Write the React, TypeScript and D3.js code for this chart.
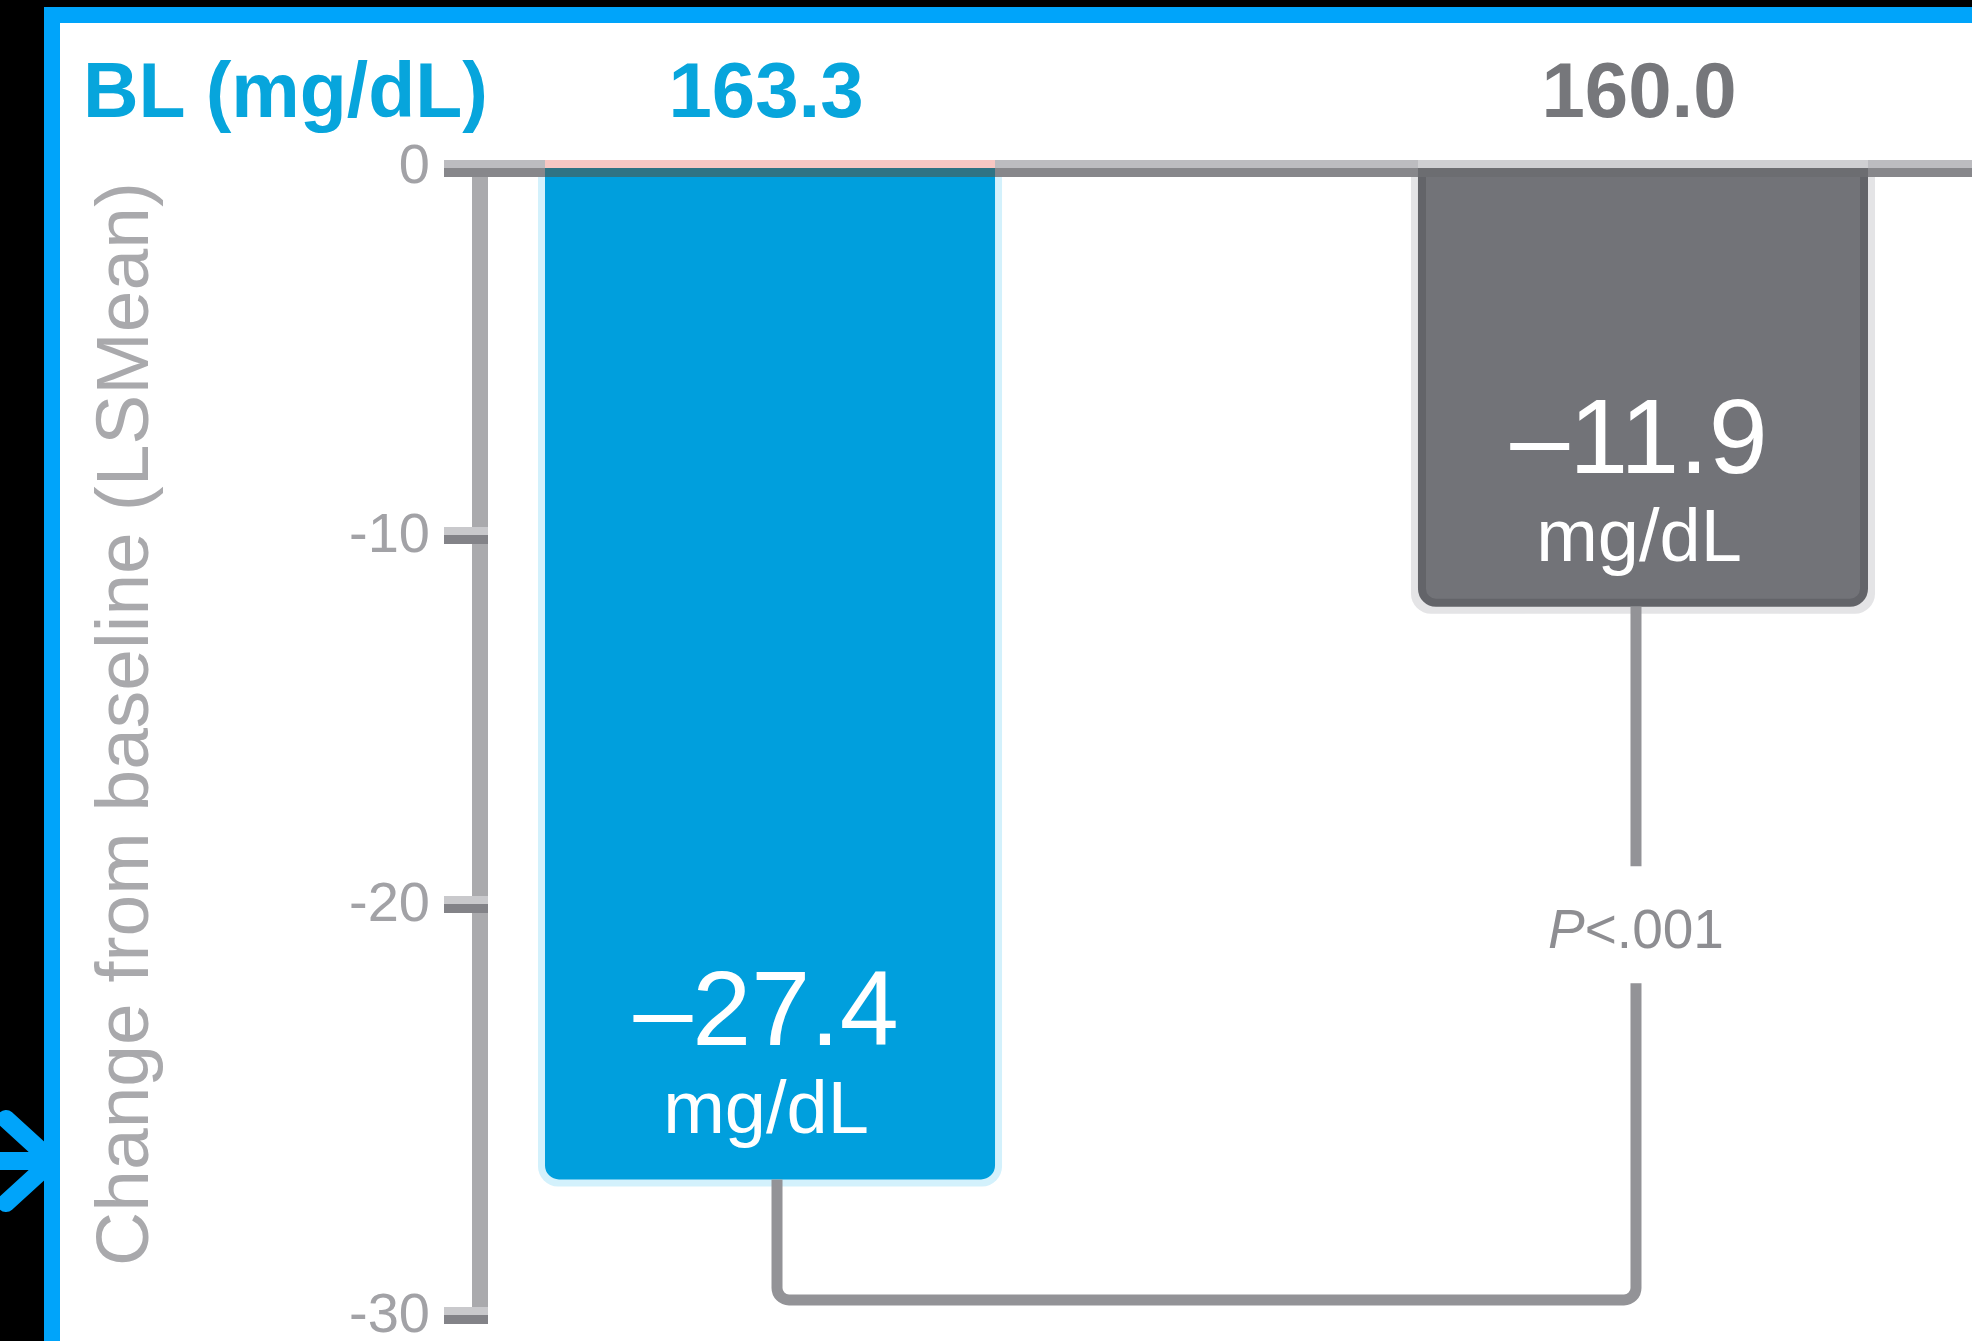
import React from "react";
import * as d3 from "d3";

// ---- data ----
const ARMS = ["Active", "Placebo"];
const BASELINE_VALUES = [163.3, 160.0];
const LSMEAN_CHANGE = [-27.4, -11.9];
const Y_TICKS = [0, -10, -20, -30];
const BASELINE_HEADER = "BL (mg/dL)";
const UNIT = "mg/dL";
const Y_TITLE = "Change from baseline (LSMean)";
const P_PREFIX = "P";
const P_REST = "<.001";

// ---- look ----
const W = 1972;
const H = 1341;
const FONT = "'Liberation Sans', Arial, Helvetica, sans-serif";
const FRAME_BLUE = "#00a4fa";
const BAR_FILL = ["#009fdd", "#727378"];
const BAR_EDGE = [null, "#636469"];
const BAR_HALO = ["#d3f1fc", "#e4e4e6"];
const HEADER_FILL = ["#07a5dc", "#76777b"];
const ZERO_TOP = ["#f8c7c3", "#cfcfd2"];
const ZERO_BOTTOM = ["#2f7384", "#6c6d71"];

// bar shape: flat top, rounded bottom corners
function barPath(x0: number, x1: number, yTop: number, yBottom: number, r: number) {
  const p = d3.path();
  p.moveTo(x0, yTop);
  p.lineTo(x1, yTop);
  p.lineTo(x1, yBottom - r);
  p.arcTo(x1, yBottom, x1 - r, yBottom, r);
  p.lineTo(x0 + r, yBottom);
  p.arcTo(x0, yBottom, x0, yBottom - r, r);
  p.closePath();
  return p.toString();
}

export default function App() {
  const x = d3.scaleBand<string>().domain(ARMS).range([545, 1868]).paddingInner(0.4845).paddingOuter(0);
  const y = d3.scaleLinear().domain([0, -20]).range([167, 906]);
  // axis ticks: the last interval of the printed axis is stretched
  const yAxis = d3.scaleLinear().domain([0, -20, -30]).range([167, 905, 1316]);

  const bw = x.bandwidth();
  const y0 = y(0);
  const axisX = 480;
  const zeroLeft = 444;

  const cx = ARMS.map((a) => (x(a) as number) + bw / 2);
  const bottoms = LSMEAN_CHANGE.map((v) => y(v));

  // bracket legs sit slightly inside the bar centres
  const legInset = 7;
  const legL = cx[0] + legInset;
  const legR = cx[1] - legInset;
  const bracketY = yAxis(-30) - 16;
  const pLabelBase = (bottoms[1] + bracketY) / 2 - 5;
  const gapTop = pLabelBase - 82;
  const gapBottom = pLabelBase + 35;

  const r = 12;
  const bracket = d3.path();
  bracket.moveTo(legL, bottoms[0]);
  bracket.lineTo(legL, bracketY - r);
  bracket.arcTo(legL, bracketY, legL + r, bracketY, r);
  bracket.lineTo(legR - r, bracketY);
  bracket.arcTo(legR, bracketY, legR, bracketY - r, r);
  bracket.lineTo(legR, gapBottom);
  bracket.moveTo(legR, gapTop);
  bracket.lineTo(legR, bottoms[1]);

  return (
    <div style={{ position: "absolute", left: 0, top: 0 }}>
      <svg width={W} height={H} viewBox={`0 0 ${W} ${H}`} style={{ display: "block" }}>
        {/* frame */}
        <rect x={0} y={0} width={W} height={H} fill="#000" />
        <path
          d={`M0,1161 H52 M6,1119 L52,1161 L6,1203`}
          fill="none"
          stroke={FRAME_BLUE}
          strokeWidth={18}
          strokeLinecap="round"
          strokeLinejoin="round"
        />
        <rect x={44} y={7} width={W - 44} height={H - 7} fill={FRAME_BLUE} />
        <rect x={60} y={23} width={W - 60} height={H - 23} fill="#fff" />

        {/* baseline header */}
        <text x={83} y={117} fontFamily={FONT} fontWeight={700} fontSize={77} fill={HEADER_FILL[0]}>
          {BASELINE_HEADER}
        </text>
        {BASELINE_VALUES.map((v, i) => (
          <text
            key={`bl-${i}`}
            x={cx[i] - 4}
            y={117}
            textAnchor="middle"
            fontFamily={FONT}
            fontWeight={700}
            fontSize={78}
            fill={HEADER_FILL[i]}
          >
            {v.toFixed(1)}
          </text>
        ))}

        {/* y axis title */}
        <text
          transform={`translate(148,724) rotate(-90)`}
          textAnchor="middle"
          fontFamily={FONT}
          fontSize={75}
          fill="#a9a9ac"
        >
          {Y_TITLE}
        </text>

        {/* bars */}
        {ARMS.map((a, i) => {
          const x0 = x(a) as number;
          const yb = bottoms[i];
          const inset = BAR_EDGE[i] ? 4 : 0;
          return (
            <g key={`bar-${a}`}>
              <path d={barPath(x0 - 7, x0 + bw + 7, y0, yb + 7, 20)} fill={BAR_HALO[i]} />
              <path
                d={barPath(x0 + inset, x0 + bw - inset, y0, yb - inset, 14)}
                fill={BAR_FILL[i]}
                stroke={BAR_EDGE[i] ?? "none"}
                strokeWidth={inset * 2}
              />
            </g>
          );
        })}

        {/* y axis */}
        <line x1={axisX} x2={axisX} y1={y0 + 4} y2={yAxis(-30) + 8} stroke="#aaaaad" strokeWidth={16} />
        {Y_TICKS.slice(1).map((t) => (
          <g key={`tick-${t}`}>
            <rect x={zeroLeft} y={yAxis(t) - 9} width={axisX + 8 - zeroLeft} height={8} fill="#c9c9cc" />
            <rect x={zeroLeft} y={yAxis(t) - 1} width={axisX + 8 - zeroLeft} height={9} fill="#838388" />
          </g>
        ))}
        {Y_TICKS.map((t) => (
          <text
            key={`tl-${t}`}
            x={430}
            y={yAxis(t) + 16}
            textAnchor="end"
            fontFamily={FONT}
            fontSize={56}
            fill="#a2a2a6"
          >
            {t === 0 ? "0" : `-${Math.abs(t)}`}
          </text>
        ))}

        {/* zero line */}
        <rect x={zeroLeft} y={y0 - 7} width={W - zeroLeft} height={8} fill="#bcbcc0" />
        <rect x={zeroLeft} y={y0 + 1} width={W - zeroLeft} height={9} fill="#87878b" />
        {ARMS.map((a, i) => (
          <g key={`zl-${a}`}>
            <rect x={x(a) as number} y={y0 - 7} width={bw} height={8} fill={ZERO_TOP[i]} />
            <rect x={x(a) as number} y={y0 + 1} width={bw} height={9} fill={ZERO_BOTTOM[i]} />
          </g>
        ))}

        {/* value labels inside bars */}
        {ARMS.map((a, i) => (
          <g key={`lab-${a}`} fontFamily={FONT} fill="#fff" textAnchor="middle">
            <text x={cx[i] - 4} y={bottoms[i] - 134} fontSize={106}>
              {`\u2013${Math.abs(LSMEAN_CHANGE[i]).toFixed(1)}`}
            </text>
            <text x={cx[i] - 4} y={bottoms[i] - 46} fontSize={74}>
              {UNIT}
            </text>
          </g>
        ))}

        {/* significance bracket */}
        <path d={bracket.toString()} fill="none" stroke="#939397" strokeWidth={11} />
        <text x={legR} y={pLabelBase} textAnchor="middle" fontFamily={FONT} fontSize={55} fill="#8e8e92">
          <tspan fontStyle="italic">{P_PREFIX}</tspan>
          <tspan>{P_REST}</tspan>
        </text>
      </svg>
    </div>
  );
}
